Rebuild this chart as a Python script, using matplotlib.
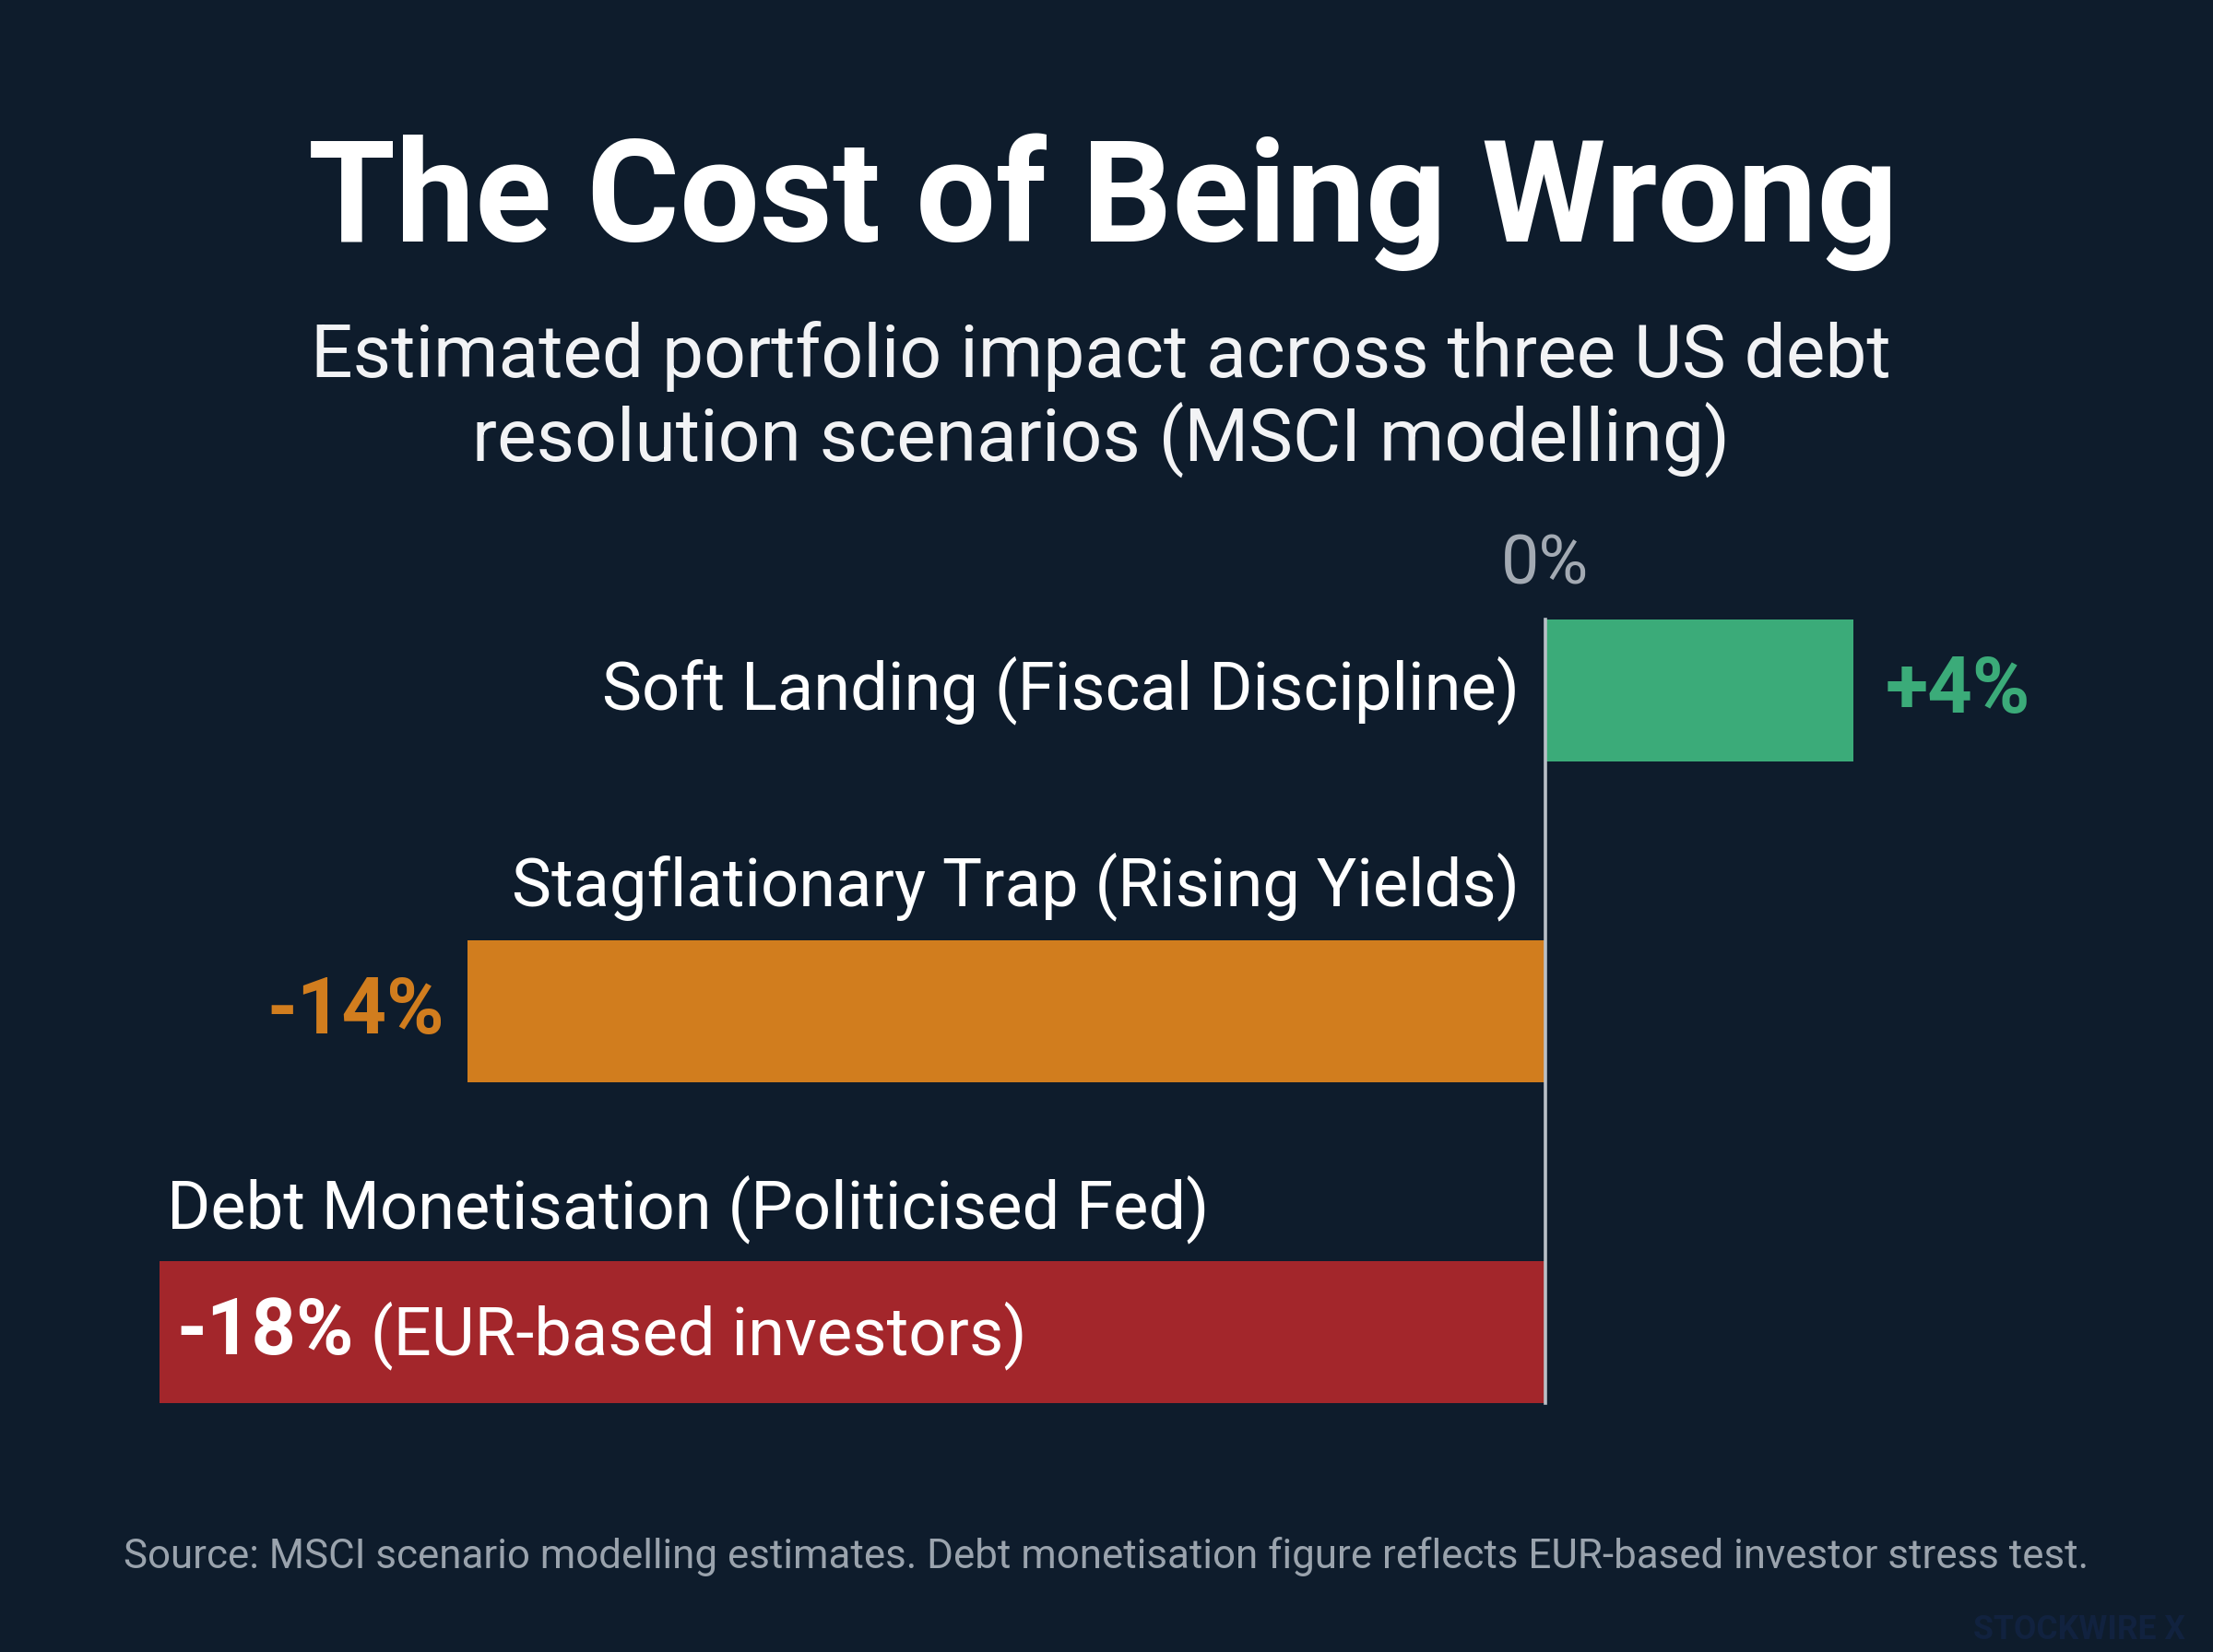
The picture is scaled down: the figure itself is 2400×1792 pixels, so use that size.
import matplotlib.pyplot as plt

# Data
scenarios = [
    "Soft Landing (Fiscal Discipline)",
    "Stagflationary Trap (Rising Yields)",
    "Debt Monetisation (Politicised Fed)",
]
impact = [4, -14, -18]
value_labels = ["+4%", "-14%", "-18%"]
bar_colors = ["#3bab79", "#d17d1e", "#a3262b"]

BG = "#0e1c2c"
plt.rcParams["font.family"] = ["Roboto", "DejaVu Sans"]

fig = plt.figure(figsize=(12, 8.96), dpi=200, facecolor=BG)
ax = fig.add_axes([0, 0, 1, 1])
ax.set_facecolor(BG)
ax.axis("off")

# scale: zero at 1676 px, ~83.5 px per percent; rows 348 px apart
ax.set_xlim(-1676 / 83.5, (2400 - 1676) / 83.5)
ax.set_ylim((1792 - 749) / 348, -749 / 348)

ypos = list(range(len(scenarios)))
ax.barh(ypos, impact, height=0.443, color=bar_colors, zorder=2)
ax.plot([0, 0], [-0.222, 2.222], color="#b9bfc7", lw=1.3, zorder=3)
ax.text(0, -0.39, "0%", color="#a3aab3", fontsize=26.5, ha="center", va="center")

# category labels
ax.text(-0.34, 0, scenarios[0], color="white", fontsize=26, ha="right", va="center")
ax.text(-0.34, 0.61, scenarios[1], color="white", fontsize=26, ha="right", va="center")
ax.text(impact[2] + 0.1, 1.618, scenarios[2], color="white", fontsize=26,
        ha="left", va="center")

# value labels
ax.text(impact[0] + 0.42, 0, value_labels[0], color=bar_colors[0], fontsize=30.5,
        fontweight="bold", ha="left", va="center")
ax.text(impact[1] - 0.3, 1, value_labels[1], color=bar_colors[1], fontsize=30.5,
        fontweight="bold", ha="right", va="center")
t = ax.text(impact[2] + 0.22, 2, value_labels[2], color="white", fontsize=30.5,
            fontweight="bold", ha="left", va="center")
ax.annotate(" (EUR-based investors)", xy=(1, 0), xycoords=t, color="white",
            fontsize=26, ha="left", va="bottom")

# titles
fig.text(0.4985, 1 - 219 / 1792, "The Cost of Being Wrong", color="white",
         fontsize=55.3, fontweight="bold", ha="center", va="center")
fig.text(0.4975, 1 - 433 / 1792,
         "Estimated portfolio impact across three US debt\nresolution scenarios (MSCI modelling)",
         color="#f2f3f5", fontsize=28.9, ha="center", va="center", linespacing=1.15)
fig.text(0.5, 1 - 1688 / 1792,
         "Source: MSCI scenario modelling estimates. Debt monetisation figure reflects EUR-based investor stress test.",
         color="#9aa3ad", fontsize=15.8, ha="center", va="center")
fig.text(2370 / 2400, 1 - 1768 / 1792, "STOCKWIRE X", color="#11223f",
         fontsize=12.8, fontweight="bold", ha="right", va="center")

fig.savefig("out.png", dpi=200, facecolor=BG)
